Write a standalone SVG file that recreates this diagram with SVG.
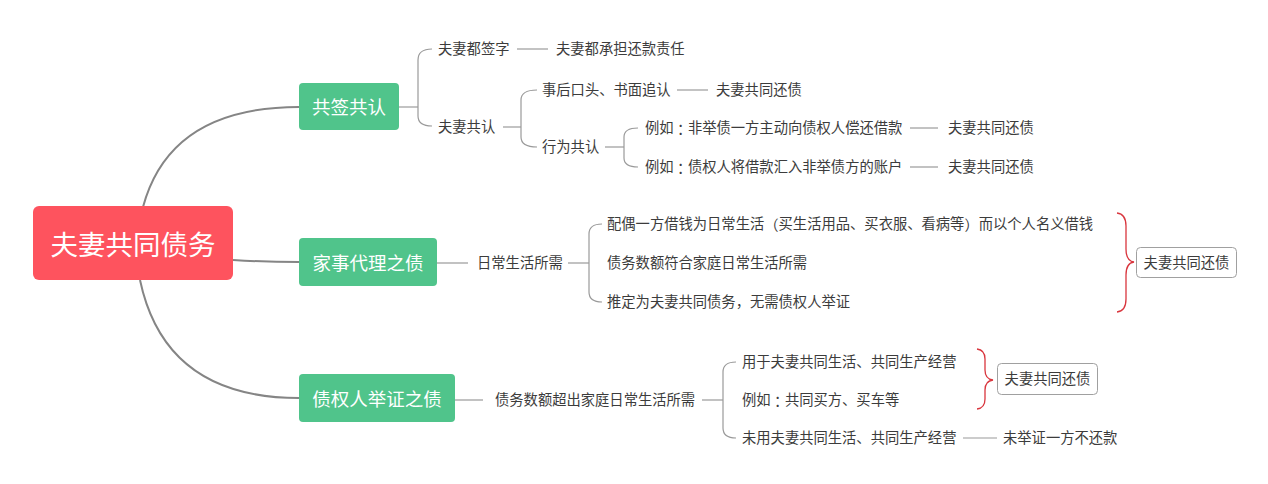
<svg xmlns="http://www.w3.org/2000/svg" width="1268" height="484" viewBox="0 0 1268 484">
<style>
text{font-family:"Liberation Sans","Noto Sans CJK SC",sans-serif;dominant-baseline:central}
.p{font-family:"Noto Sans CJK TC","Noto Sans CJK SC",sans-serif}
.t{font-size:14.3px;fill:#3c3c3c}
.g{font-size:18.5px;fill:#fff;text-anchor:middle}
.m{font-size:27.5px;fill:#fff;text-anchor:middle}
.gr{fill:#50c48b}
.main{stroke:#858585;stroke-width:2;fill:none}
.sub{stroke:#9a9a9a;stroke-width:1.2;fill:none}
.br{stroke:#d9363e;stroke-width:1.3;fill:none}
.box{fill:#fff;stroke:#a0a0a0;stroke-width:1}
.s{font-size:14.3px;fill:#3c3c3c;text-anchor:middle}
</style>
<rect width="1268" height="484" fill="#fff"/>
<g id="connectors">
<path class="main" d="M143,207 Q170,107 299,107"/>
<path class="main" d="M233,260 Q266,262 299,262"/>
<path class="main" d="M140,280 Q165,398 299,398"/>
<path class="sub" d="M399,107 H418"/>
<path class="sub" d="M432,49 C423,49 418,52 418,60 V116 C418,123 423,126 432,126"/>
<path class="sub" d="M517,49 H548"/>
<path class="sub" d="M503,127 H521"/>
<path class="sub" d="M537,90 C527,90 521,93 521,100 V137 C521,144 527,147 537,147"/>
<path class="sub" d="M677,90 H708"/>
<path class="sub" d="M605,147 H624"/>
<path class="sub" d="M638,128 C629,128 624,131 624,137 V158 C624,164 629,167 638,167"/>
<path class="sub" d="M910,128 H938"/>
<path class="sub" d="M910,167 H938"/>
<path class="sub" d="M437,263 H468"/>
<path class="sub" d="M568,263 H589"/>
<path class="sub" d="M602,224 C593,224 589,227 589,234 V292 C589,299 593,302 602,302"/>
<path class="br" d="M1117,213 Q1126,214 1126,226 V249 Q1126,261 1134,262 Q1126,263 1126,275 V299 Q1126,311 1117,312"/>
<path class="sub" d="M455,400 H483"/>
<path class="sub" d="M702,400 H723"/>
<path class="sub" d="M736,362 C727,362 723,365 723,372 V428 C723,435 727,438 736,438"/>
<path class="sub" d="M963,438 H997"/>
<path class="br" d="M977,349 Q985,350 985,359 V370 Q985,379 993,380 Q985,381 985,390 V399 Q985,408 977,409"/>
</g>
<g id="root">
<rect x="33" y="206" width="200" height="74" rx="6" fill="#fe535e"/>
<text class="m" x="133" y="245">夫妻共同债务</text>
</g>
<g id="n1">
<rect class="gr" x="299" y="83" width="100" height="47" rx="4"/>
<text class="g" x="349" y="107">共签共认</text>
</g>
<g id="n2">
<rect class="gr" x="299" y="238" width="138" height="48" rx="4"/>
<text class="g" x="368" y="263">家事代理之债</text>
</g>
<g id="n3">
<rect class="gr" x="299" y="374" width="156" height="48" rx="4"/>
<text class="g" x="377" y="399">债权人举证之债</text>
</g>
<g id="n1-children">
<text class="t" x="438" y="49">夫妻都签字</text>
<text class="t" x="556" y="49">夫妻都承担还款责任</text>
<text class="t" x="438" y="127">夫妻共认</text>
<text class="t" x="542" y="90">事后口头、书面追认</text>
<text class="t" x="716" y="90">夫妻共同还债</text>
<text class="t" x="542" y="147">行为共认</text>
<text class="t" x="645" y="128">例如<tspan class="p">：</tspan>非举债一方主动向债权人偿还借款</text>
<text class="t" x="948" y="128">夫妻共同还债</text>
<text class="t" x="645" y="167">例如<tspan class="p">：</tspan>债权人将借款汇入非举债方的账户</text>
<text class="t" x="948" y="167">夫妻共同还债</text>
</g>
<g id="n2-children">
<text class="t" x="477" y="263">日常生活所需</text>
<text class="t" x="607" y="224">配偶一方借钱为日常生活<tspan class="p">（</tspan>买生活用品、买衣服、看病等<tspan class="p">）</tspan>而以个人名义借钱</text>
<text class="t" x="607" y="263">债务数额符合家庭日常生活所需</text>
<text class="t" x="607" y="302">推定为夫妻共同债务，无需债权人举证</text>
</g>
<g id="summary1">
<rect class="box" x="1136.5" y="247.5" width="100" height="30" rx="4"/>
<text class="s" x="1186.5" y="262.5">夫妻共同还债</text>
</g>
<g id="n3-children">
<text class="t" x="495" y="400">债务数额超出家庭日常生活所需</text>
<text class="t" x="742" y="362">用于夫妻共同生活、共同生产经营</text>
<text class="t" x="742" y="400">例如<tspan class="p">：</tspan>共同买方、买车等</text>
<text class="t" x="742" y="438">未用夫妻共同生活、共同生产经营</text>
<text class="t" x="1003" y="438">未举证一方不还款</text>
</g>
<g id="summary2">
<rect class="box" x="997.5" y="363.5" width="100" height="31" rx="4"/>
<text class="s" x="1047.5" y="379">夫妻共同还债</text>
</g>
</svg>
